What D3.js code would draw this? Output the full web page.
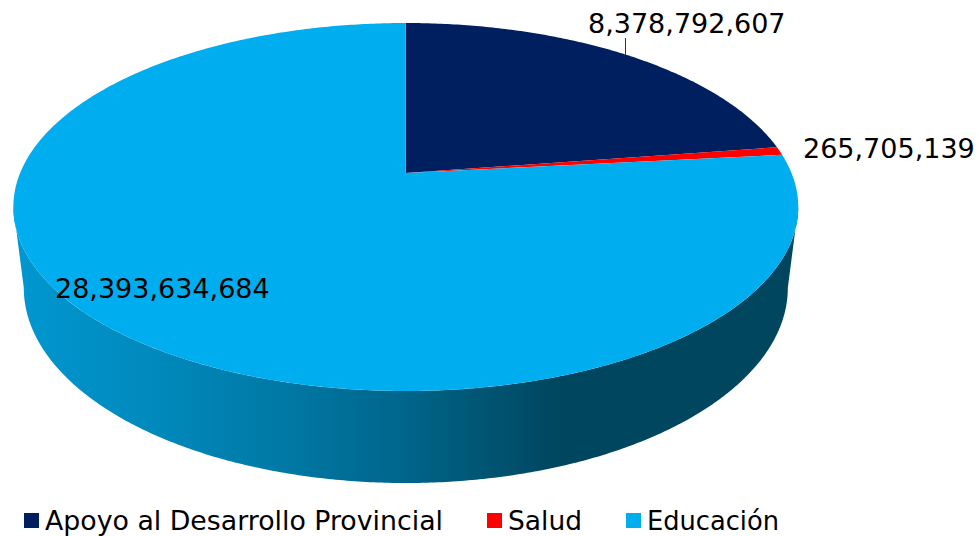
<!DOCTYPE html>
<html><head><meta charset="utf-8">
<script src="https://cdn.jsdelivr.net/npm/d3@7"></script>
<style>html,body{margin:0;padding:0;background:#fff}svg{display:block}text{font-family:"DejaVu Sans",Verdana,sans-serif;fill:#000}</style>
</head><body><div id="chart"></div>
<script>
const categories = ["Apoyo al Desarrollo Provincial", "Salud", "Educación"];
const values = [8378792607, 265705139, 28393634684];
const valueLabels = ["8,378,792,607", "265,705,139", "28,393,634,684"];
const colors = ["#001F5F", "#FF0000", "#00AEEF"];

const W = 979, H = 536;
const svg = d3.select("#chart").append("svg").attr("width", W).attr("height", H);

// perspective disc: homography from the unit circle to the screen
const top3d = {ax: 405.8, ay: 173, C: 385.7, A: 177.7, k: 0.1848};
const base3d = {cx: 405.8, cy: 288, rx: 382, ry: 195};
const project = t => {
  const u = Math.sin(t), v = Math.cos(t), d = 1 + top3d.k * v;
  return [top3d.ax + top3d.C * u / d, top3d.ay - top3d.A * v / d];
};
const rimAngles = (a0, a1, step = 0.01) => {
  const n = Math.max(2, Math.ceil((a1 - a0) / step));
  return d3.range(n + 1).map(i => a0 + (a1 - a0) * i / n);
};
const line = d3.line();

const arcs = d3.pie().sort(null).value(d => d)(values);

// side wall gradient
const sideStops = [[14,"#0097D0"],[150,"#008ABD"],[287,"#0078A4"],[400,"#00668C"],[470,"#005876"],[530,"#004C68"],[550,"#00465F"],[800,"#00465F"]];
const fx = d3.scaleLinear().domain([13, 798]).range([0, 1]);
svg.append("defs").append("linearGradient").attr("id", "side").attr("gradientUnits", "userSpaceOnUse")
  .attr("x1", 13).attr("x2", 798).attr("y1", 0).attr("y2", 0)
  .selectAll("stop").data(sideStops).join("stop")
  .attr("offset", d => fx(d[0])).attr("stop-color", d => d[1]);

// side wall: rim from right extreme round to left extreme, then base ellipse back
const tilt = Math.asin(top3d.k);
const rimLow = rimAngles(Math.PI / 2 + tilt, Math.PI * 1.5 - tilt).map(project);
const baseLow = rimAngles(0, Math.PI).map(t => [base3d.cx - base3d.rx * Math.cos(t), base3d.cy + base3d.ry * Math.sin(t)]);
svg.append("path").attr("fill", "url(#side)").attr("d", line(rimLow.concat(baseLow)) + "Z");

// top slices
svg.selectAll("path.slice").data(arcs).join("path").attr("class", "slice")
  .attr("fill", (d, i) => colors[i])
  .attr("d", d => line([[top3d.ax, top3d.ay]].concat(rimAngles(d.startAngle, d.endAngle).map(project))) + "Z");

// leader
svg.append("line").attr("x1", 625.5).attr("x2", 625.5).attr("y1", 38).attr("y2", 55).attr("stroke", "#333").attr("stroke-width", 1);

// value labels
const labelPos = [[588, 33], [803, 158], [55, 298]];
svg.selectAll("text.val").data(valueLabels).join("text").attr("class", "val")
  .attr("x", (d, i) => labelPos[i][0]).attr("y", (d, i) => labelPos[i][1])
  .attr("font-size", 27).text(d => d);

// legend
const legX = [24, 487, 626];
const legW = [398, 74, 132];
const leg = svg.selectAll("g.leg").data(categories).join("g").attr("class", "leg");
leg.append("rect").attr("x", (d, i) => legX[i]).attr("y", 513).attr("width", 15).attr("height", 15).attr("fill", (d, i) => colors[i]);
leg.append("text").attr("x", (d, i) => legX[i] + 21).attr("y", 530).attr("font-size", 27)
  .attr("textLength", (d, i) => legW[i]).attr("lengthAdjust", "spacingAndGlyphs").text(d => d);
</script></body></html>
